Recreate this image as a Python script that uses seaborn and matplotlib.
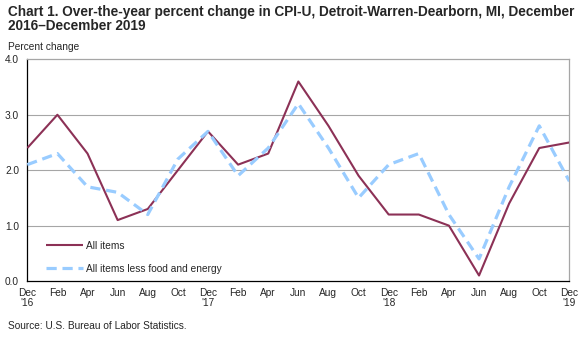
import matplotlib
matplotlib.use("Agg")
import matplotlib.pyplot as plt
import seaborn as sns
import pandas as pd

# Bi-monthly observations, December 2016 through December 2019
months = ["Dec", "Feb", "Apr", "Jun", "Aug", "Oct",
          "Dec", "Feb", "Apr", "Jun", "Aug", "Oct",
          "Dec", "Feb", "Apr", "Jun", "Aug", "Oct", "Dec"]
year_marks = {0: "'16", 6: "'17", 12: "'18", 18: "'19"}

all_items = [2.4, 3.0, 2.3, 1.1, 1.3, 2.0,
             2.7, 2.1, 2.3, 3.6, 2.8, 1.9,
             1.2, 1.2, 1.0, 0.1, 1.4, 2.4, 2.5]
core_items = [2.1, 2.3, 1.7, 1.6, 1.2, 2.2,
              2.7, 1.9, 2.4, 3.2, 2.4, 1.5,
              2.1, 2.3, 1.2, 0.4, 1.7, 2.8, 1.8]

series_names = ["All items", "All items less food and energy"]
y_ticks = [0.0, 1.0, 2.0, 3.0, 4.0]

title = ("Chart 1. Over-the-year percent change in CPI-U, Detroit-Warren-Dearborn, MI, December\n"
         "2016\u2013December 2019")
source = "Source: U.S. Bureau of Labor Statistics."

sns.set_theme(style="white")
plt.rcParams["font.family"] = ["Liberation Sans", "DejaVu Sans"]

n = len(months)
df = pd.DataFrame({
    "pos": list(range(n)) * 2,
    "value": all_items + core_items,
    "series": [series_names[0]] * n + [series_names[1]] * n,
})

fig = plt.figure(figsize=(5.87, 3.37), dpi=100)
ax = fig.add_axes([0.0465, 0.166, 0.9235, 0.658])

# gridlines behind the data
for yv in y_ticks[1:-1]:
    ax.axhline(yv, color="#a6a6a6", lw=0.8, zorder=0)

sns.lineplot(
    data=df, x="pos", y="value", hue="series", style="series",
    palette={series_names[0]: "#8c3156", series_names[1]: "#99ccff"},
    dashes={series_names[0]: "", series_names[1]: (3.2, 1.8)},
    ax=ax, legend=False, zorder=3,
)
for line, lw in zip(ax.get_lines()[-2:], [1.5, 2.3]):
    line.set_linewidth(lw)
    line.set_solid_capstyle("butt")
    line.set_dash_capstyle("butt")

ax.set_xlim(0, n - 1)
ax.set_ylim(0, 4)
ax.set_xticks(range(n))
ax.set_xticklabels([m + ("\n" + year_marks[i] if i in year_marks else "")
                    for i, m in enumerate(months)], fontsize=7.3, linespacing=1.0)
ax.set_yticks(y_ticks)
ax.set_yticklabels([f"{v:.1f}" for v in y_ticks], fontsize=7.3)
ax.tick_params(axis="x", direction="inout", length=6, width=0.8, color="black", pad=2)
ax.tick_params(axis="y", length=0, pad=6)
ax.set_xlabel("")
ax.set_ylabel("")

for side in ["left", "bottom"]:
    ax.spines[side].set_color("black")
    ax.spines[side].set_linewidth(0.9)
for side in ["top", "right"]:
    ax.spines[side].set_color("#a6a6a6")
    ax.spines[side].set_linewidth(0.9)

# legend
handles = ax.get_lines()[-2:]
leg = ax.legend(handles, series_names, loc="lower left",
                bbox_to_anchor=(0.018, -0.008), frameon=False, fontsize=7.3,
                handlelength=3.6, handletextpad=0.3, labelspacing=1.3)

fig.text(0.0136, 0.985, title, fontsize=9.8, fontweight="bold",
         va="top", ha="left", linespacing=1.0)
fig.text(0.0136, 0.862, "Percent change", fontsize=7.3, va="center", ha="left")
fig.text(0.0136, 0.032, source, fontsize=7.3, va="center", ha="left")

fig.savefig("out.png", dpi=100)
